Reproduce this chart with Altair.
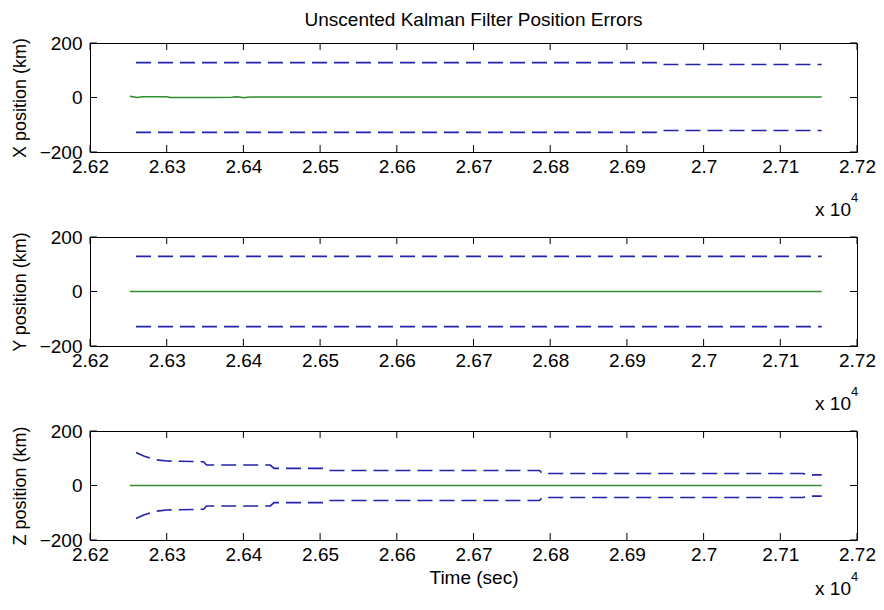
import altair as alt
import pandas as pd

# ---------------- data (time in seconds) ----------------
x_ticks = [26200, 26300, 26400, 26500, 26600, 26700, 26800, 26900, 27000, 27100, 27200]
y_ticks = [-200, 0, 200]

# X position error (green)
x_err_t = [26252, 26256, 26262, 26268, 26280, 26300, 26305, 26330, 26360, 26385,
           26390, 26395, 26400, 26405, 26410, 26450, 26550, 26700, 26850, 27000, 27154]
x_err_v = [4, 3, 0, 3, 3, 3, 0, 0, 0, 1, 3, 2, -1, 1, 2, 2, 2, 2, 2, 2, 2]
# X 3-sigma bound (blue dashed, +/-)
x_sig_t = [26260, 26938, 26942, 27154]
x_sig_v = [128, 128, 121, 121]

# Y position error
y_err_t = [26252, 26500, 26800, 27154]
y_err_v = [0, 0, 0, 0]
y_sig_t = [26260, 27154]
y_sig_v = [129, 129]

# Z position error
z_err_t = [26252, 26500, 26800, 27154]
z_err_v = [0, 0, 0, 0]
z_sig_t = [26260, 26270, 26280, 26290, 26300, 26348, 26352, 26435, 26440, 26505,
           26510, 26786, 26790, 27130, 27135, 27154]
z_sig_v = [121, 108, 99, 93, 90, 87, 75, 75, 63, 63, 55, 55, 44, 44, 39, 39]

# ---------------- styling ----------------
W, H = 767, 109
FONT = "Liberation Sans"
GREEN = "#2f8f2f"
BLUE = "#2222aa"

xscale = alt.Scale(domain=[26200, 27200], nice=False, zero=False)
yscale = alt.Scale(domain=[-200, 200], nice=False, zero=False)


def panel(err_t, err_v, sig_t, sig_v, ylabel, xtitle, exp_dy, title=None):
    err = pd.DataFrame({"t": err_t, "v": err_v})
    n = len(sig_t)
    sig = pd.DataFrame({
        "t": list(sig_t) * 2,
        "v": list(sig_v) + [-v for v in sig_v],
        "s": ["upper"] * n + ["lower"] * n,
    })
    xaxis_kw = dict(values=x_ticks, labelExpr="format(datum.value/10000, '.3~f')",
                    ticks=False, domain=False, grid=False, labelFlush=False,
                    labelOverlap=False, labelPadding=5, labelFontSize=19,
                    labelFont=FONT, labelColor="black")
    if xtitle:
        xaxis = alt.Axis(title=xtitle, titleFont=FONT, titleFontSize=19,
                         titleFontWeight="normal", titleColor="black",
                         titlePadding=4, **xaxis_kw)
    else:
        xaxis = alt.Axis(title=None, **xaxis_kw)
    yaxis = alt.Axis(values=y_ticks, ticks=False, domain=False, grid=False,
                     labelFlush=False, labelOverlap=False, labelPadding=8,
                     labelFontSize=19, labelFont=FONT, labelColor="black",
                     title=ylabel, titleFont=FONT, titleFontSize=18,
                     titleFontWeight="normal", titleColor="black", titlePadding=10)

    X = alt.X("t:Q", scale=xscale, axis=xaxis)
    Y = alt.Y("v:Q", scale=yscale, axis=yaxis)

    err_line = alt.Chart(err).mark_line(color=GREEN, strokeWidth=1.6).encode(x=X, y=Y)
    sig_line = alt.Chart(sig).mark_line(color=BLUE, strokeWidth=1.6,
                                         strokeDash=[15, 7]).encode(x=X, y=Y, detail="s:N")
    tx = pd.DataFrame({"t": x_ticks})
    ty = pd.DataFrame({"v": y_ticks})
    top_ticks = alt.Chart(tx).mark_rule(color="black").encode(
        x=X, y=alt.value(0), y2=alt.value(7))
    bot_ticks = alt.Chart(tx).mark_rule(color="black").encode(
        x=X, y=alt.value(H), y2=alt.value(H - 7))
    left_ticks = alt.Chart(ty).mark_rule(color="black").encode(
        y=Y, x=alt.value(0), x2=alt.value(7))
    right_ticks = alt.Chart(ty).mark_rule(color="black").encode(
        y=Y, x=alt.value(W), x2=alt.value(W - 7))

    one = pd.DataFrame({"a": [0]})
    exp_main = alt.Chart(one).mark_text(align="right", baseline="alphabetic",
                                        font=FONT, fontSize=19, color="black").encode(
        x=alt.value(W - 6), y=alt.value(H + exp_dy), text=alt.value("x 10"))
    exp_sup = alt.Chart(one).mark_text(align="left", baseline="alphabetic",
                                       font=FONT, fontSize=13, color="black").encode(
        x=alt.value(W - 6), y=alt.value(H + exp_dy - 14), text=alt.value("4"))

    ch = alt.layer(err_line, sig_line, top_ticks, bot_ticks, left_ticks, right_ticks,
                   exp_main, exp_sup).properties(width=W, height=H)
    if title:
        ch = ch.properties(title=alt.TitleParams(title, font=FONT, fontSize=19,
                                                 fontWeight="normal", color="black",
                                                 anchor="middle", frame="group",
                                                 offset=4))
    return ch


p1 = panel(x_err_t, x_err_v, x_sig_t, x_sig_v, "X position (km)", None, 64,
           title="Unscented Kalman Filter Position Errors")
p2 = panel(y_err_t, y_err_v, y_sig_t, y_sig_v, "Y position (km)", None, 64)
p3 = panel(z_err_t, z_err_v, z_sig_t, z_sig_v, "Z position (km)", "Time (sec)", 55)

chart = alt.vconcat(p1, p2, p3, spacing=85, bounds="flush").properties(
    padding={"left": 2, "right": 0, "top": 2, "bottom": 0},
    background="white",
).configure_view(stroke="black", strokeWidth=1)

chart.save("out.html", embed_options={"renderer": "svg", "actions": False})
